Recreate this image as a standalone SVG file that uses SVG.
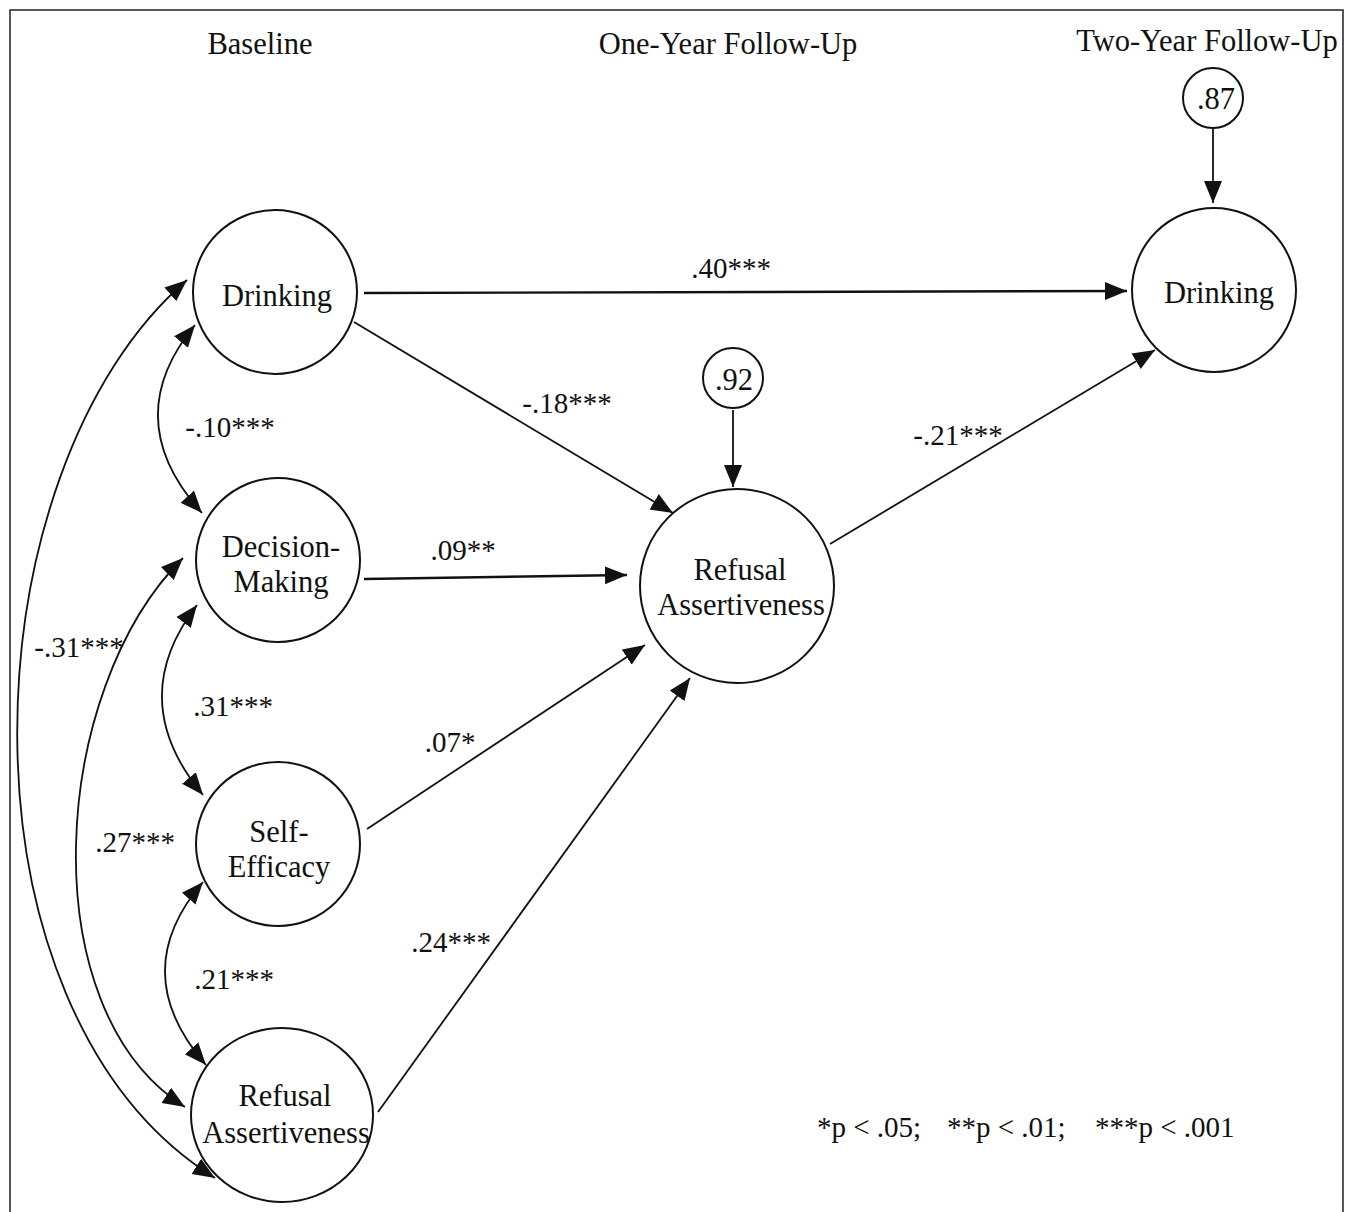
<svg xmlns="http://www.w3.org/2000/svg" width="1349" height="1212" viewBox="0 0 1349 1212">
<style>
text{font-family:"Liberation Serif","Times New Roman",serif;fill:#111;}
.h{font-size:30.5px;text-anchor:middle;}
.n{font-size:30.5px;text-anchor:middle;}
.l{font-size:29px;text-anchor:middle;}
.node{fill:#fff;stroke:#111;stroke-width:2;}
.e{fill:none;stroke:#111;stroke-width:1.8;}
.e2{fill:none;stroke:#111;stroke-width:2.4;}
</style>
<defs>
<marker id="ah" markerUnits="userSpaceOnUse" markerWidth="24" markerHeight="20" refX="22" refY="9" orient="auto-start-reverse" viewBox="0 0 24 18">
<path d="M0,0 L22,9 L0,18 Z" fill="#111"/>
</marker>
</defs>
<rect x="0" y="0" width="1349" height="1212" fill="#fff"/>
<path d="M10,1212 L10,10 L1343,10 L1343,1212" fill="none" stroke="#222" stroke-width="1.5"/>
<g id="headers">
<text class="h" x="260" y="54">Baseline</text>
<text class="h" x="728" y="54">One-Year Follow-Up</text>
<text class="h" x="1207" y="51">Two-Year Follow-Up</text>
</g>
<g id="connectors">
<path class="e" d="M1213,128 L1213,203" marker-end="url(#ah)"/>
<path class="e" d="M733,410 L733,487" marker-end="url(#ah)"/>
<path class="e2" d="M364,293 L1127,291" marker-end="url(#ah)"/>
<path class="e" d="M354,322 L673,513" marker-end="url(#ah)"/>
<path class="e2" d="M364,579 L627,575" marker-end="url(#ah)"/>
<path class="e" d="M367,829 L645,645" marker-end="url(#ah)"/>
<path class="e" d="M378,1112 L690,678" marker-end="url(#ah)"/>
<path class="e" d="M830,544 L1155,350" marker-end="url(#ah)"/>
<path class="e" d="M195,325 Q117.5,419 202,513" marker-start="url(#ah)" marker-end="url(#ah)"/>
<path class="e" d="M197,605 Q124,700 203,795" marker-start="url(#ah)" marker-end="url(#ah)"/>
<path class="e" d="M203,882 Q125.5,972.5 206,1065" marker-start="url(#ah)" marker-end="url(#ah)"/>
<path class="e" d="M183,558 C50,690 30,1010 185,1107" marker-start="url(#ah)" marker-end="url(#ah)"/>
<path class="e" d="M187,280 C-34,470 -54,1010 215,1178" marker-start="url(#ah)" marker-end="url(#ah)"/>
<text class="l" x="731" y="278">.40***</text>
<text class="l" x="567" y="413">-.18***</text>
<text class="l" x="958" y="445">-.21***</text>
<text class="l" x="463" y="560">.09**</text>
<text class="l" x="450" y="752">.07*</text>
<text class="l" x="451" y="952">.24***</text>
<text class="l" x="230" y="437">-.10***</text>
<text class="l" x="233" y="716">.31***</text>
<text class="l" x="79" y="657">-.31***</text>
<text class="l" x="135" y="852">.27***</text>
<text class="l" x="234" y="989">.21***</text>
</g>
<g id="n-err87"><circle class="node" cx="1213" cy="98" r="30"/><text class="n" x="1216" y="109">.87</text></g>
<g id="n-err92"><circle class="node" cx="733" cy="378" r="30"/><text class="n" x="734" y="390">.92</text></g>
<g id="n-drink0"><circle class="node" cx="275" cy="292" r="82"/><text class="n" x="277" y="306">Drinking</text></g>
<g id="n-dm"><circle class="node" cx="278" cy="560" r="82"/><text class="n" x="281" y="557">Decision-</text><text class="n" x="281" y="592">Making</text></g>
<g id="n-se"><circle class="node" cx="278" cy="844" r="82"/><text class="n" x="279" y="842">Self-</text><text class="n" x="279" y="877">Efficacy</text></g>
<g id="n-ra0"><ellipse class="node" cx="282" cy="1115" rx="91" ry="87"/><text class="n" x="285" y="1106">Refusal</text><text class="n" x="286" y="1143">Assertiveness</text></g>
<g id="n-ra1"><circle class="node" cx="737" cy="586" r="97"/><text class="n" x="740" y="580">Refusal</text><text class="n" x="741" y="615">Assertiveness</text></g>
<g id="n-drink2"><circle class="node" cx="1214" cy="290" r="82"/><text class="n" x="1219" y="303">Drinking</text></g>
<g id="legend"><text y="1137" style="font-size:29px"><tspan x="817">*p &lt; .05;</tspan><tspan x="947">**p &lt; .01;</tspan><tspan x="1095">***p &lt; .001</tspan></text></g>
</svg>
